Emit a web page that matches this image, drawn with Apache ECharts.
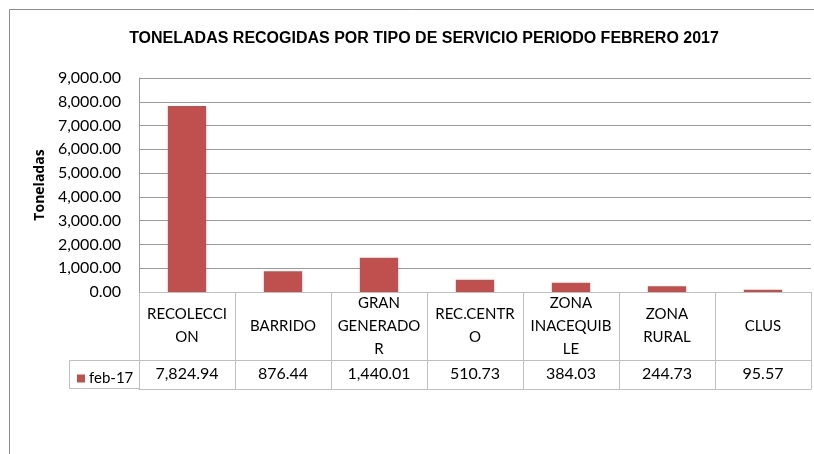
<!DOCTYPE html>
<html>
<head>
<meta charset="utf-8">
<script src="https://cdn.jsdelivr.net/npm/echarts@6/dist/echarts.min.js"></script>
<style>
  html, body { margin: 0; padding: 0; background: #fff; }
  #chart { width: 814px; height: 454px; }
</style>
</head>
<body>
<div id="chart"></div>
<script>
// data
const categories = ["RECOLECCION", "BARRIDO", "GRAN GENERADOR", "REC.CENTRO", "ZONA INACEQUIBLE", "ZONA RURAL", "CLUS"];
// header texts as wrapped in the data table
const headerLabels = ["RECOLECCI\nON", "BARRIDO", "GRAN\nGENERADO\nR", "REC.CENTR\nO", "ZONA\nINACEQUIB\nLE", "ZONA\nRURAL", "CLUS"];
const seriesName = "feb-17";
const values = [7824.94, 876.44, 1440.01, 510.73, 384.03, 244.73, 95.57];
const yTicks = [0, 1000, 2000, 3000, 4000, 5000, 6000, 7000, 8000, 9000];

const fmt = v => v.toLocaleString("en-US", { minimumFractionDigits: 2, maximumFractionDigits: 2 });
const font = "Lato, 'Liberation Sans', sans-serif";
const tableLine = "#bfbfbf";

const chart = echarts.init(document.getElementById("chart"), null, { renderer: "canvas" });

const option = {
  animation: false,
  color: ["#c0504d"],
  title: {
    text: "TONELADAS RECOGIDAS POR TIPO DE SERVICIO PERIODO FEBRERO 2017",
    left: 419,
    textAlign: "center",
    top: 26,
    textStyle: { fontFamily: "'Liberation Sans', sans-serif", fontWeight: "bold", fontSize: 16, color: "#000" }
  },
  legend: {
    left: 72,
    top: 366,
    icon: "rect",
    itemWidth: 8,
    itemHeight: 8,
    itemGap: 4,
    textStyle: { fontFamily: font, fontSize: 15, color: "#000", padding: [0, 0, 0, -1] },
    data: [seriesName]
  },
  grid: { left: 139, right: 3, top: 78, bottom: 162 },
  xAxis: [
    {
      type: "category",
      data: headerLabels,
      position: "bottom",
      axisLine: { show: true, lineStyle: { color: tableLine } },
      axisTick: { show: true, length: 97, lineStyle: { color: tableLine } },
      axisLabel: {
        interval: 0, margin: 34, verticalAlign: "middle", lineHeight: 23,
        fontFamily: font, fontSize: 15, color: "#000"
      }
    },
    {
      type: "category",
      data: values.map(fmt),
      position: "bottom",
      offset: 68,
      axisLine: { show: true, lineStyle: { color: tableLine } },
      axisTick: { show: false },
      axisLabel: {
        interval: 0, margin: 14, verticalAlign: "middle",
        fontFamily: font, fontSize: 16, color: "#000"
      }
    },
    {
      type: "category",
      data: categories,
      position: "bottom",
      offset: 97,
      axisLine: { show: true, lineStyle: { color: tableLine } },
      axisTick: { show: false },
      axisLabel: { show: false }
    }
  ],
  yAxis: {
    type: "value",
    min: yTicks[0],
    max: yTicks[yTicks.length - 1],
    interval: 1000,
    name: "Toneladas",
    nameLocation: "middle",
    nameRotate: 90,
    nameGap: 92,
    nameTextStyle: { fontFamily: "'Open Sans', 'Liberation Sans', sans-serif", fontWeight: "bold", fontSize: 14, color: "#000" },
    axisLine: { show: true, lineStyle: { color: "#9a9a9a" } },
    axisTick: { show: false },
    axisLabel: { margin: 18, fontFamily: font, fontSize: 16, color: "#000", formatter: fmt },
    splitLine: { show: true, lineStyle: { color: "#9a9a9a" } }
  },
  series: [
    {
      name: seriesName,
      type: "bar",
      data: values,
      barWidth: "40%",
      xAxisIndex: 0
    }
  ],
  graphic: [
    // outer chart frame
    { type: "rect", shape: { x: 9.5, y: 9.5, width: 830, height: 470 }, style: { fill: "none", stroke: "#8c8c8c", lineWidth: 1 }, silent: true },
    // legend cell of the data table
    { type: "polyline", shape: { points: [[139, 360.5], [69.5, 360.5], [69.5, 388.5], [139, 388.5]] }, style: { fill: "none", stroke: tableLine, lineWidth: 1 }, silent: true }
  ]
};

chart.setOption(option);
window.addEventListener("resize", () => chart && chart.resize());
</script>
</body>
</html>
